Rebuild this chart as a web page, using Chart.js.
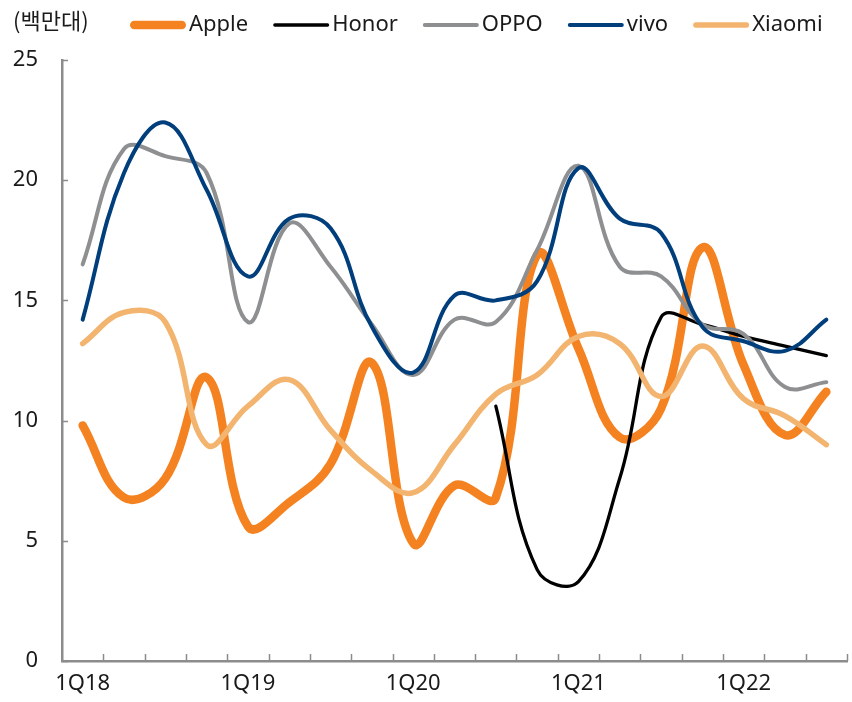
<!DOCTYPE html>
<html>
<head>
<meta charset="utf-8">
<script src="https://cdn.jsdelivr.net/npm/chart.js@4.4.1/dist/chart.umd.min.js"></script>
<style>
  html, body { margin: 0; padding: 0; background: #fff; }
  #wrap { position: relative; width: 852px; height: 702px; }
  #unit { position: absolute; left: 13px; top: 3px; font: 22px "Noto Sans CJK KR", sans-serif; color: #1a1a1a; }
</style>
</head>
<body>
<div id="wrap">
  <canvas id="c" width="852" height="702"></canvas>
  <div id="unit">(백만대)</div>
</div>
<script>
// 분기별 출하량 (백만대)
const quarters = ['1Q18','2Q18','3Q18','4Q18','1Q19','2Q19','3Q19','4Q19','1Q20','2Q20',
                  '3Q20','4Q20','1Q21','2Q21','3Q21','4Q21','1Q22','2Q22','3Q22'];
const apple  = [9.8, 6.8, 7.6, 11.8, 5.6, 6.6, 8.2, 12.4, 4.9, 7.3, 6.8, 16.9, 13.0, 9.3, 10.5, 17.2, 12.3, 9.4, 11.2];
const honor  = [null, null, null, null, null, null, null, null, null, null, 10.6, 3.8, 3.3, 7.6, 14.3, 14.0, 13.5, 13.1, 12.7];
const oppo   = [16.5, 21.3, 21.0, 20.3, 14.1, 18.2, 16.4, 14.0, 11.9, 14.2, 14.1, 17.1, 20.6, 16.4, 16.0, 14.0, 13.6, 11.4, 11.6];
const vivo   = [14.2, 20.3, 22.4, 19.6, 16.0, 18.4, 18.0, 13.9, 12.0, 15.2, 15.0, 15.8, 20.5, 18.4, 17.8, 13.9, 13.3, 12.9, 14.2];
const xiaomi = [13.2, 14.5, 14.1, 9.0, 10.6, 11.7, 9.6, 7.9, 7.0, 9.0, 11.1, 11.9, 13.5, 13.2, 11.0, 13.1, 10.9, 10.2, 9.0];

const AXIS = '#8c8c8c';
Chart.defaults.font.family = '"Noto Sans", sans-serif';
Chart.defaults.font.size = 22;
Chart.defaults.color = '#1a1a1a';

// 안쪽으로 향하는 눈금 표시
const tickMarks = {
  id: 'tickMarks',
  beforeDatasetsDraw(chart) {
    const {ctx, chartArea: a, scales: {x, y}} = chart;
    const step = (a.right - a.left) / quarters.length;
    ctx.save();
    ctx.strokeStyle = AXIS;
    ctx.lineWidth = 1.5;
    ctx.beginPath();
    y.ticks.forEach(t => {
      const py = Math.round(y.getPixelForValue(t.value)) + 0.5;
      ctx.moveTo(a.left, py);
      ctx.lineTo(a.left + 6, py);
    });
    for (let i = 0; i < quarters.length; i++) {
      const px = Math.round(x.getPixelForValue(i) + step / 2) + 0.5;
      ctx.moveTo(px, a.bottom);
      ctx.lineTo(px, a.bottom - 7);
    }
    ctx.stroke();
    ctx.restore();
  }
};

// 범례 (선 + 이름)
const lineLegend = {
  id: 'lineLegend',
  afterDraw(chart) {
    const ctx = chart.ctx;
    const y = 25;
    let x = 130;
    ctx.save();
    ctx.font = '22px "Noto Sans", sans-serif';
    ctx.textBaseline = 'middle';
    chart.data.datasets.forEach(ds => {
      const w = ds.borderWidth;
      ctx.strokeStyle = ds.borderColor;
      ctx.lineWidth = w;
      ctx.lineCap = 'round';
      ctx.beginPath();
      ctx.moveTo(x + w / 2, y);
      ctx.lineTo(x + 56 - w / 2, y);
      ctx.stroke();
      ctx.fillStyle = '#1a1a1a';
      ctx.fillText(ds.label, x + 59, y);
      x += 59 + ctx.measureText(ds.label).width + 25;
    });
    ctx.restore();
  }
};

const mk = (label, data, color, width, order) => ({
  label, data, borderColor: color, backgroundColor: color, borderWidth: width,
  pointRadius: 0, pointHoverRadius: 0, tension: 0.4, fill: false,
  borderCapStyle: 'round', borderJoinStyle: 'round', order
});

new Chart(document.getElementById('c'), {
  type: 'line',
  data: {
    labels: quarters,
    datasets: [
      mk('Apple', apple, '#f58220', 8.5, 5),
      mk('Honor', honor, '#000000', 3.3, 4),
      mk('OPPO', oppo, '#8e8f91', 4, 3),
      mk('vivo', vivo, '#003f7c', 4, 2),
      mk('Xiaomi', xiaomi, '#f2b46e', 5.5, 1)
    ]
  },
  options: {
    responsive: false,
    animation: false,
    layout: {padding: {top: 60, right: 5, left: 0, bottom: 0}},
    plugins: {legend: {display: false}, tooltip: {enabled: false}},
    scales: {
      x: {
        offset: true,
        grid: {display: false, drawTicks: false},
        border: {display: true, color: AXIS, width: 2.5},
        ticks: {
          autoSkip: false, maxRotation: 0, padding: 10,
          callback: (v, i) => (i % 4 === 0 ? quarters[i] : '')
        },
        afterFit: s => { s.height = 41; }
      },
      y: {
        min: 0, max: 25,
        grid: {display: false, drawTicks: false},
        border: {display: true, color: AXIS, width: 2.5},
        ticks: {stepSize: 5, padding: 24},
        afterFit: s => { s.width = 62; }
      }
    }
  },
  plugins: [tickMarks, lineLegend]
});
</script>
</body>
</html>
